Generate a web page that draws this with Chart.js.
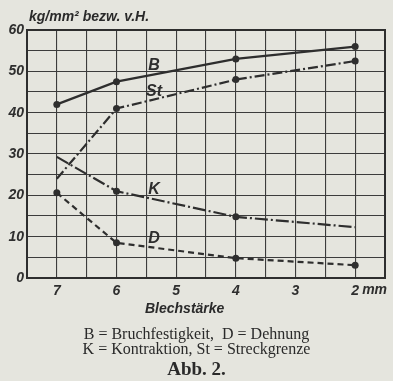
<!DOCTYPE html>
<html>
<head>
<meta charset="utf-8">
<script src="https://cdn.jsdelivr.net/npm/chart.js@4"></script>
<style>
    body { margin: 0; background: #e5e5de; }
    #wrap { position: relative; width: 393px; height: 381px; }
    canvas { position: absolute; left: 0; top: 0; }
    .t { position: absolute; white-space: nowrap; color: #2a2a2a; line-height: 1; }
    .ax { font: italic bold 14px "Liberation Sans"; }
    .cap { font: 16px "Liberation Serif"; width: 393px; text-align: center; left: 0; }
</style>
</head>
<body>
<div id="wrap">
    <canvas id="chartCanvas" width="393" height="381"></canvas>
    <div class="t ax" style="left:29px; top:8px;">kg/mm² bezw. v.H.</div>
    <div class="t ax" style="left:145px; top:300px;">Blechstärke</div>
    <div class="t cap" style="top:325px;">B = Bruchfestigkeit,&nbsp; D = Dehnung</div>
    <div class="t cap" style="top:340px;">K = Kontraktion, St = Streckgrenze</div>
    <div class="t cap" style="top:358px; font-size:19px; font-weight:bold;">Abb. 2.</div>
</div>
<script>
// Blechstärke in mm
const thickness = [7, 6, 4, 2];

// kg/mm² bzw. v.H.
const bruch = [42, 47.5, 53, 56];
const streck = [24, 41, 48, 52.5];
const kontraktion = [29.3, 21, 14.8, 12.3];
const dehnung = [20.6, 8.5, 4.8, 3.1];

const curveLabels = [
    { text: "B", x: 5.37, y: 51.5 },
    { text: "St", x: 5.37, y: 45.2 },
    { text: "K", x: 5.37, y: 21.4 },
    { text: "D", x: 5.37, y: 9.6 }
];

const INK = "#2e2e2e";
const pts = vals => thickness.map((t, i) => ({ x: t, y: vals[i] }));

/* ----------------------------------------
   Labels on the curves + "mm" unit
---------------------------------------- */
const labelPlugin = {
    id: "labels",
    afterDraw(chart) {
        const { ctx, scales } = chart;
        ctx.save();
        ctx.fillStyle = INK;
        ctx.font = "italic bold 16px 'Liberation Sans'";
        ctx.textAlign = "center";
        ctx.textBaseline = "middle";
        curveLabels.forEach(l => {
            ctx.fillText(l.text, scales.x.getPixelForValue(l.x), scales.y.getPixelForValue(l.y));
        });
        ctx.font = "italic bold 14px 'Liberation Sans'";
        ctx.textAlign = "left";
        ctx.fillText("mm", scales.x.getPixelForValue(2) + 7, 290);
        ctx.restore();
    }
};

const base = {
    borderColor: INK,
    backgroundColor: INK,
    pointBackgroundColor: INK,
    pointBorderWidth: 0,
    borderWidth: 2.2,
    tension: 0,
    fill: false
};

const tickFont = { family: "Liberation Sans", style: "italic", weight: "bold", size: 14 };

new Chart(document.getElementById("chartCanvas").getContext("2d"), {
    type: "line",
    data: {
        datasets: [
            { ...base, label: "B", data: pts(bruch), pointRadius: 3.5 },
            { ...base, label: "St", data: pts(streck), borderDash: [10, 3, 2, 3], pointRadius: [0, 3.5, 3.5, 3.5] },
            { ...base, label: "K", data: pts(kontraktion), borderDash: [13, 3, 2, 3], pointRadius: [0, 3.5, 3.5, 0] },
            { ...base, label: "D", data: pts(dehnung), borderDash: [6, 4], pointRadius: 3.5 }
        ]
    },
    options: {
        responsive: false,
        animation: false,
        devicePixelRatio: 1,
        layout: { padding: { left: 0, top: 30, right: 8, bottom: 81 } },
        plugins: { legend: { display: false }, tooltip: { enabled: false } },
        scales: {
            x: {
                type: "linear",
                min: 1.5,
                max: 7.5,
                reverse: true,
                afterFit: s => { s.height = 22; },
                grid: { color: "#3c3c3c", lineWidth: 1.1, drawTicks: false },
                border: { color: INK, width: 2 },
                ticks: {
                    stepSize: 0.5,
                    autoSkip: false,
                    maxRotation: 0,
                    padding: 5,
                    color: INK,
                    font: tickFont,
                    callback: v => Number.isInteger(v) ? v : ""
                }
            },
            y: {
                min: 0,
                max: 60,
                afterFit: s => { s.width = 27; },
                grid: { color: "#3c3c3c", lineWidth: 1.1, drawTicks: false },
                border: { color: INK, width: 2 },
                ticks: {
                    stepSize: 5,
                    padding: 3,
                    color: INK,
                    font: tickFont,
                    callback: v => v % 10 === 0 ? v : ""
                }
            }
        }
    },
    plugins: [labelPlugin, {
        id: "frame",
        afterDraw(chart) {
            const { ctx, chartArea: a } = chart;
            ctx.save();
            ctx.strokeStyle = INK;
            ctx.lineWidth = 2;
            ctx.strokeRect(a.left, a.top, a.right - a.left, a.bottom - a.top);
            ctx.restore();
        }
    }]
});
</script>
</body>
</html>
